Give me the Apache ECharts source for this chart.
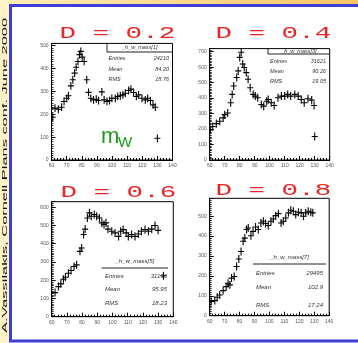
<!DOCTYPE html>
<html><head><meta charset="utf-8">
<script src="https://cdn.jsdelivr.net/npm/echarts@6/dist/echarts.min.js"></script>
<style>html,body{margin:0;padding:0;background:#fff}#c{width:358px;height:343px}</style>
</head><body><div id="c"></div>
<script>
// ---- data ----
const panelTitles = ['D = 0.2', 'D = 0.4', 'D = 0.6', 'D = 0.8'];
const xTickLabels = [60, 70, 80, 90, 100, 110, 120, 130, 140];

const massD02 = [60.8,62.3,64.5,66.7,68.3,70.1,71.2,72.8,74.1,75.3,76.3,77.5,78.5,79.4,80.3,81.6,83.3,84.5,86,87.8,89.6,91.1,93.3,94.8,96.7,98.4,99.9,102.2,103.8,105.5,107.2,108.8,111,112.5,114.3,116.1,117.6,119.8,122,123.6,125.4,127.1,128.6,130];
const countD02 = [187,227,222,231,256,270,281,324,351,380,406,431,461,475,450,431,351,296,270,263,266,260,298,263,256,260,270,270,278,281,285,292,304,310,295,278,285,270,263,270,260,241,231,95];

const massD04 = [60.4,62,64.4,66.7,69,70,72,74,75,76,78,79,80,81,82,83,84.4,85.6,87,89,90.4,92,94.4,96,98,99,101,103,105.5,107.8,110,112,114,116.7,119,121,123,125.5,128,129.6,130];
const countD04 = [196,217,235,250,272,293,304,370,424,478,533,576,663,696,620,598,565,522,467,424,413,402,359,348,380,391,370,352,402,413,413,424,413,424,413,391,370,396,387,352,152];

const massD06 = [62.2,64.4,66,67.7,69,71,72.7,74.7,76.4,78.6,79.7,81,82,83.5,84.8,86,88,89.6,91.4,93,94.4,95.7,97,99.5,101.7,104,105.4,107,109,110.4,112.6,114.8,117,119,121.4,123.6,125.8,128,130,133.5];
const countD06 = [132,165,180,205,216,238,253,275,284,358,376,450,480,541,569,550,560,550,541,514,505,514,480,468,459,440,468,477,459,440,450,440,453,468,477,468,480,500,473,224];

const massD08 = [61,63.4,65,66.7,69,71,72.3,73.5,74.6,76.4,78,79.5,81,82.4,83.5,84.7,85.8,87.6,89,90.7,92.5,94.3,95.9,97.4,99.2,101,102.6,104.2,106,107.8,109.3,110.9,112.7,114.3,116,117.6,119.4,121.2,122.8,124.3,126,127.7,129];
const countD08 = [71,76,93,104,126,146,163,155,189,197,247,285,323,374,390,433,441,402,424,446,433,466,475,463,453,475,486,503,513,466,475,491,517,530,525,508,520,517,500,517,525,520,517];

const errY = [17, 26, 22, 20];      // vertical error half-lengths (counts)
const binHalf = [2, 2, 2, 2];       // horizontal error half-widths (GeV)
const yMax = [510, 720, 630, 590];

const statNames = ['_h_w_mass[1]', '_h_w_mass[3]', '_h_w_mass[5]', '_h_w_mass[7]'];
const statEntries = ['24210', '31621', '31196', '29495'];
const statMean = ['84.20', '90.26', '95.95', '102.9'];
const statRMS = ['18.76', '19.05', '18.23', '17.24'];
const sideNote = 'A.Vassilakis, Cornell Plans conf. June 2000';

// ---- layout ----
const grids = [
  {left: 51.5, top: 43.4, width: 121, height: 116.6},
  {left: 209.7, top: 48.6, width: 120, height: 111.4},
  {left: 51.7, top: 201.7, width: 121.6, height: 115},
  {left: 209.7, top: 198.3, width: 119.5, height: 117.4}
];
const masses = [massD02, massD04, massD06, massD08];
const counts = [countD02, countD04, countD06, countD08];

const chart = echarts.init(document.getElementById('c'), null, {renderer: 'canvas'});

const xAxes = grids.map((g, i) => ({
  gridIndex: i, type: 'value', min: 60, max: 140, interval: 10,
  axisLine: {show: true, onZero: false, lineStyle: {color: '#000', width: 1}},
  axisTick: {show: true, inside: true, length: 4, lineStyle: {color: '#000', width: 1}},
  minorTick: {show: true, splitNumber: 5, length: 2, lineStyle: {color: '#000', width: 1}},
  axisLabel: {fontSize: 5, color: '#555', margin: 3, fontFamily: 'Liberation Sans',
    formatter: v => xTickLabels.indexOf(v) >= 0 ? String(v) : ''},
  splitLine: {show: false}
}));
const yAxes = grids.map((g, i) => ({
  gridIndex: i, type: 'value', min: 0, max: yMax[i], interval: 100,
  axisLine: {show: true, onZero: false, lineStyle: {color: '#000', width: 1}},
  axisTick: {show: true, inside: true, length: 4, lineStyle: {color: '#000', width: 1}},
  minorTick: {show: true, splitNumber: 10, length: 2, lineStyle: {color: '#000', width: 0.8}},
  axisLabel: {fontSize: 5, color: '#555', margin: 3, showMaxLabel: false, fontFamily: 'Liberation Sans'},
  splitLine: {show: false}
}));

function crossRenderer(params, api) {
  const x = api.value(0), y = api.value(1), e = api.value(2), h = api.value(3);
  const a = api.coord([x - h, y]), b = api.coord([x + h, y]);
  const c = api.coord([x, Math.max(0, y - e)]), d = api.coord([x, y + e]);
  const st = {stroke: '#000', lineWidth: 1.1};
  return {type: 'group', children: [
    {type: 'line', shape: {x1: a[0], y1: a[1], x2: b[0], y2: b[1]}, style: st},
    {type: 'line', shape: {x1: c[0], y1: c[1], x2: d[0], y2: d[1]}, style: st}
  ]};
}

const series = masses.map((xs, i) => ({
  type: 'custom', xAxisIndex: i, yAxisIndex: i, clip: true,
  renderItem: crossRenderer,
  data: xs.map((x, k) => [x, counts[i][k], errY[i], binHalf[i]]),
  silent: true, animation: false
}));

// ---- decorations ----
const graphics = [];
graphics.push({type: 'rect', z: -10, shape: {x: 0, y: 0, width: 358, height: 343}, style: {fill: '#ffffff'}});
graphics.push({type: 'rect', z: -9, shape: {x: 0, y: 0, width: 358, height: 5},
  style: {fill: new echarts.graphic.LinearGradient(0, 0, 1, 0, [{offset: 0, color: '#fdeeb8'}, {offset: 1, color: '#f8c462'}])}});
graphics.push({type: 'rect', z: -9, shape: {x: 0, y: 0, width: 9, height: 343}, style: {fill: '#fef2c6'}});
graphics.push({type: 'rect', z: -8, shape: {x: 10.5, y: 5.5, width: 360, height: 335.5}, style: {fill: '#ffffff', stroke: '#3e3ed6', lineWidth: 3}});
graphics.push({type: 'text', z: 5, x: 4.5, y: 333, rotation: Math.PI / 2, scaleX: 2.05, originX: 0, originY: 0,
  style: {text: sideNote, fontSize: 8, fontFamily: 'Liberation Sans', fill: '#111', textAlign: 'left', textVerticalAlign: 'middle'}});

const titlePos = [[59.5, 33.5], [215.5, 33.5], [60.5, 192], [215.5, 190.5]];
panelTitles.forEach((t, i) => {
  graphics.push({type: 'text', z: 5, x: titlePos[i][0], y: titlePos[i][1], scaleX: 1.62, originX: 0, originY: 0,
    style: {text: t, fontSize: 17, fontFamily: 'Liberation Mono', fill: '#ee2222', textAlign: 'left', textVerticalAlign: 'middle'}});
});

// stat boxes
const boxes = [
  {l: 107, r: 172.5, top: 43.4, line: 52, head: 47.6, rows: [58.5, 69, 79], lx: 108.5, vx: 169, fs: 5.5, boxed: true},
  {l: 268, r: 329.7, top: 48.6, line: 54, head: 51.3, rows: [61, 71, 81.5], lx: 270, vx: 326, fs: 5.5, boxed: true},
  {l: 101.7, r: 168, top: 0, line: 268, head: 261, rows: [276, 289.5, 303], lx: 105, vx: 167, fs: 6, boxed: false},
  {l: 253, r: 326, top: 0, line: 264, head: 257.5, rows: [273, 287.5, 305], lx: 256, vx: 323, fs: 6, boxed: false}
];
boxes.forEach((b, i) => {
  const ln = {stroke: '#222', lineWidth: 1};
  graphics.push({type: 'line', z: 4, shape: {x1: b.l, y1: b.line, x2: b.r, y2: b.line}, style: ln});
  if (b.boxed) graphics.push({type: 'line', z: 4, shape: {x1: b.l, y1: b.top, x2: b.l, y2: b.line}, style: ln});
  const tst = {fontSize: b.fs, fontStyle: 'italic', fontFamily: 'Liberation Sans', fill: '#333', textVerticalAlign: 'middle'};
  graphics.push({type: 'text', z: 5, style: Object.assign({}, tst, {text: statNames[i], x: (b.l + b.r) / 2, y: b.head, textAlign: 'center'})});
  const labs = ['Entries', 'Mean', 'RMS'];
  const vals = [statEntries[i], statMean[i], statRMS[i]];
  labs.forEach((lab, k) => {
    graphics.push({type: 'text', z: 5, style: Object.assign({}, tst, {text: lab, x: b.lx, y: b.rows[k], textAlign: 'left'})});
    graphics.push({type: 'text', z: 5, style: Object.assign({}, tst, {text: vals[k], x: b.vx, y: b.rows[k], textAlign: 'right'})});
  });
});

// m_W label
graphics.push({type: 'text', z: 5, style: {text: 'm', x: 101, y: 137, fontSize: 22, fontFamily: 'Liberation Sans', fill: '#1c9a1c', textAlign: 'left', textVerticalAlign: 'middle'}});
graphics.push({type: 'text', z: 5, style: {text: 'W', x: 118, y: 143, fontSize: 15, fontFamily: 'Liberation Sans', fill: '#1c9a1c', textAlign: 'left', textVerticalAlign: 'middle'}});

chart.setOption({
  animation: false,
  backgroundColor: '#ffffff',
  grid: grids.map(g => Object.assign({show: true, borderColor: '#000', borderWidth: 1, backgroundColor: 'rgba(0,0,0,0)', containLabel: false}, g)),
  xAxis: xAxes,
  yAxis: yAxes,
  series: series,
  graphic: {elements: graphics}
});
</script></body></html>
